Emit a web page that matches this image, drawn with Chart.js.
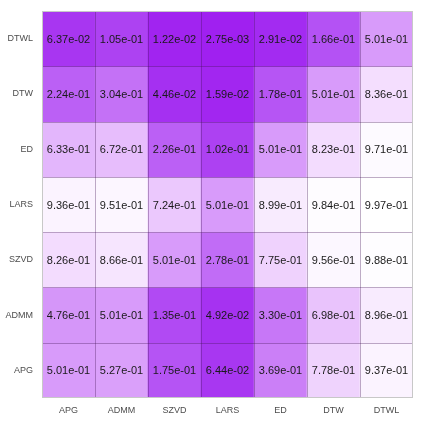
<!DOCTYPE html>
<html>
<head>
<meta charset="utf-8">
<script src="https://cdn.jsdelivr.net/npm/chart.js@4.4.0/dist/chart.umd.min.js"></script>
<style>
  html, body { margin: 0; padding: 0; background: #fff; }
  #wrap { width: 423px; height: 423px; }
</style>
</head>
<body>
<div id="wrap"><canvas id="heat"></canvas></div>
<script>
'use strict';

// rows listed top to bottom, columns left to right
var rowLabels = ['DTWL', 'DTW', 'ED', 'LARS', 'SZVD', 'ADMM', 'APG'];
var colLabels = ['APG', 'ADMM', 'SZVD', 'LARS', 'ED', 'DTW', 'DTWL'];

var valDTWL = [6.37e-02, 1.05e-01, 1.22e-02, 2.75e-03, 2.91e-02, 1.66e-01, 5.01e-01];
var valDTW  = [2.24e-01, 3.04e-01, 4.46e-02, 1.59e-02, 1.78e-01, 5.01e-01, 8.36e-01];
var valED   = [6.33e-01, 6.72e-01, 2.26e-01, 1.02e-01, 5.01e-01, 8.23e-01, 9.71e-01];
var valLARS = [9.36e-01, 9.51e-01, 7.24e-01, 5.01e-01, 8.99e-01, 9.84e-01, 9.97e-01];
var valSZVD = [8.26e-01, 8.66e-01, 5.01e-01, 2.78e-01, 7.75e-01, 9.56e-01, 9.88e-01];
var valADMM = [4.76e-01, 5.01e-01, 1.35e-01, 4.92e-02, 3.30e-01, 6.98e-01, 8.96e-01];
var valAPG  = [5.01e-01, 5.27e-01, 1.75e-01, 6.44e-02, 3.69e-01, 7.78e-01, 9.37e-01];

var rowValues = [valDTWL, valDTW, valED, valLARS, valSZVD, valADMM, valAPG];

// colour scale: purple -> white, interpolated in Lab like ggplot
var lowColor = [160, 32, 240];
var highColor = [255, 255, 255];

function toLab(rgb) {
    var c = rgb.map(function(v) {
        v = v / 255;
        return v <= 0.04045 ? v / 12.92 : Math.pow((v + 0.055) / 1.055, 2.4);
    });
    var x = (0.4124 * c[0] + 0.3576 * c[1] + 0.1805 * c[2]) / 0.95047;
    var y = (0.2126 * c[0] + 0.7152 * c[1] + 0.0722 * c[2]);
    var z = (0.0193 * c[0] + 0.1192 * c[1] + 0.9505 * c[2]) / 1.08883;
    var f = function(t) { return t > 0.008856 ? Math.cbrt(t) : 7.787 * t + 16 / 116; };
    return [116 * f(y) - 16, 500 * (f(x) - f(y)), 200 * (f(y) - f(z))];
}

function fromLab(lab) {
    var fy = (lab[0] + 16) / 116;
    var fx = fy + lab[1] / 500;
    var fz = fy - lab[2] / 200;
    var inv = function(t) { return t * t * t > 0.008856 ? t * t * t : (t - 16 / 116) / 7.787; };
    var x = inv(fx) * 0.95047, y = inv(fy), z = inv(fz) * 1.08883;
    var lin = [
        3.2406 * x - 1.5372 * y - 0.4986 * z,
        -0.9689 * x + 1.8758 * y + 0.0415 * z,
        0.0557 * x - 0.2040 * y + 1.0570 * z
    ];
    return lin.map(function(v) {
        v = v <= 0.0031308 ? 12.92 * v : 1.055 * Math.pow(v, 1 / 2.4) - 0.055;
        return Math.round(Math.max(0, Math.min(1, v)) * 255);
    });
}

var allValues = [].concat.apply([], rowValues);
var vMin = Math.min.apply(null, allValues);
var vMax = Math.max.apply(null, allValues);
var labLow = toLab(lowColor), labHigh = toLab(highColor);

function fillFor(v) {
    var t = (v - vMin) / (vMax - vMin);
    var lab = labLow.map(function(a, i) { return a + (labHigh[i] - a) * t; });
    var rgb = fromLab(lab);
    return 'rgb(' + rgb.join(',') + ')';
}

function fmt(v) {
    var s = v.toExponential(2);
    var parts = s.split('e');
    var exp = parseInt(parts[1], 10);
    var sign = exp < 0 ? '-' : '+';
    exp = Math.abs(exp);
    return parts[0] + 'e' + sign + (exp < 10 ? '0' + exp : exp);
}

var nRows = rowLabels.length;

var datasets = rowValues.map(function(vals, i) {
    return {
        label: rowLabels[i],
        data: vals.map(function() { return [nRows - 1 - i, nRows - i]; }),
        values: vals,
        backgroundColor: vals.map(fillFor),
        borderWidth: 0,
        barPercentage: 1,
        categoryPercentage: 1,
        grouped: false
    };
});

var cellPlugin = {
    id: 'cells',
    afterDatasetsDraw: function(chart) {
        var ctx = chart.ctx;
        var area = chart.chartArea;
        var cw = (area.right - area.left) / colLabels.length;
        var ch = (area.bottom - area.top) / nRows;

        ctx.save();
        // inner cell lines
        ctx.strokeStyle = 'rgba(70, 20, 90, 0.35)';
        ctx.lineWidth = 1;
        ctx.beginPath();
        for (var i = 1; i < colLabels.length; i++) {
            var x = Math.round(area.left + i * cw) + 0.5;
            ctx.moveTo(x, area.top);
            ctx.lineTo(x, area.bottom);
        }
        for (var j = 1; j < nRows; j++) {
            var y = Math.round(area.top + j * ch) + 0.5;
            ctx.moveTo(area.left, y);
            ctx.lineTo(area.right, y);
        }
        ctx.stroke();

        // outer frame
        ctx.strokeStyle = '#c8c8c8';
        ctx.strokeRect(area.left + 0.5, area.top + 0.5, area.right - area.left - 1, area.bottom - area.top - 1);

        // values
        ctx.fillStyle = '#1a1a1a';
        ctx.font = '11px "Liberation Sans", Arial, sans-serif';
        ctx.textAlign = 'center';
        ctx.textBaseline = 'middle';
        chart.data.datasets.forEach(function(ds, di) {
            var meta = chart.getDatasetMeta(di);
            meta.data.forEach(function(bar, k) {
                ctx.fillText(fmt(ds.values[k]), bar.x, (bar.y + bar.base) / 2 + 1);
            });
        });
        ctx.restore();
    }
};

new Chart(document.getElementById('heat'), {
    type: 'bar',
    data: {
        labels: colLabels,
        datasets: datasets
    },
    options: {
        responsive: true,
        maintainAspectRatio: false,
        animation: false,
        layout: { padding: { top: 11, right: 10, left: 0, bottom: 0 } },
        plugins: {
            legend: { display: false },
            tooltip: { enabled: false }
        },
        scales: {
            x: {
                grid: { display: false, drawTicks: false },
                border: { display: false },
                ticks: {
                    padding: 7,
                    color: '#4d4d4d',
                    font: { family: '"Liberation Sans", Arial, sans-serif', size: 9 }
                },
                afterFit: function(scale) {
                    scale.height = 25;
                    scale.paddingLeft = 0;
                    scale.paddingRight = 0;
                }
            },
            y: {
                type: 'linear',
                min: 0,
                max: nRows,
                grid: { display: false, drawTicks: false },
                border: { display: false },
                afterBuildTicks: function(scale) {
                    scale.ticks = rowLabels.map(function(_, i) { return { value: i + 0.5 }; });
                },
                ticks: {
                    padding: 9,
                    color: '#4d4d4d',
                    font: { family: '"Liberation Sans", Arial, sans-serif', size: 9 },
                    callback: function(v) { return rowLabels[nRows - 1 - Math.floor(v)]; }
                },
                afterFit: function(scale) {
                    scale.width = 42;
                    scale.paddingTop = 0;
                    scale.paddingBottom = 0;
                }
            }
        }
    },
    plugins: [cellPlugin]
});
</script>
</body>
</html>
